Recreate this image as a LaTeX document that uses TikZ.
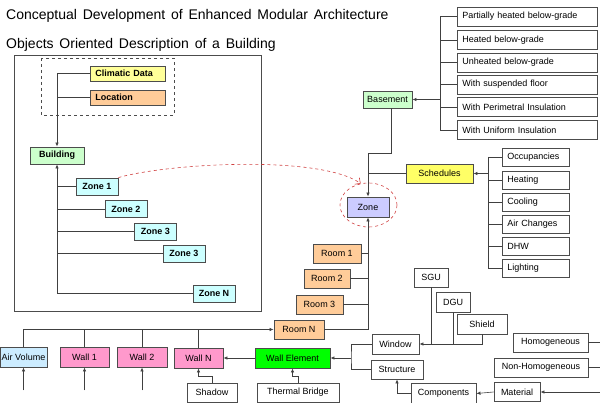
\documentclass[tikz,border=0pt]{standalone}
\usepackage{fontspec}
\setmainfont{Liberation Sans}
\usetikzlibrary{arrows.meta,shapes.geometric}

\definecolor{climatic}{HTML}{FFFF99}
\definecolor{location}{HTML}{FFCC99}
\definecolor{building}{HTML}{CCFFCC}
\definecolor{zonecyan}{HTML}{CCFFFF}
\definecolor{zonemain}{HTML}{CCCCFF}
\definecolor{schedules}{HTML}{FFFF66}
\definecolor{airvol}{HTML}{CCECFF}
\definecolor{wallpink}{HTML}{FF99CC}
\definecolor{wallelem}{HTML}{00FF00}
\definecolor{linkred}{HTML}{D04040}

\def\zones{{97/186.5/z1/Zone 1}, {126/209/z2/Zone 2}, {155.5/231.5/z3/Zone 3}, {184/253.5/z4/Zone 3}, {214/293.5/z5/Zone N}}
\def\basementTypes{{16.5/b1/Partially heated below-grade}, {40/b2/Heated below-grade}, {62.5/b3/Unheated below-grade}, {84.5/b4/With suspended floor}, {107/b5/With Perimetral Insulation}, {130/b6/With Uniform Insulation}}
\def\scheduleTypes{{157/s1/Occupancies}, {180/s2/Heating}, {202/s3/Cooling}, {224/s4/Air Changes}, {246/s5/DHW}, {268/s6/Lighting}}
\def\rooms{{337/253.5/48/r1/Room 1}, {327/278.5/46/r2/Room 2}, {319.5/304.5/47/r3/Room 3}}
\def\walls{{84.5/49/w1/Wall 1}, {142/50/w2/Wall 2}}

\tikzstyle{heading} = [font=\fontsize{14}{16}\selectfont, inner sep=0pt, anchor=west]
\tikzstyle{box} = [draw=black!70, line width=0.9pt, rectangle, fill=white, inner sep=1pt, font=\fontsize{9}{10}\selectfont]
\tikzstyle{bold} = [font=\fontsize{9}{10}\selectfont\bfseries]
\tikzstyle{list box} = [box, anchor=west, align=left, inner xsep=5pt, inner ysep=0pt]
\tikzstyle{link} = [draw, black!75, line width=0.6pt]
\tikzstyle{arrow link} = [link, -{Latex[length=4pt,width=3.5pt]}]
\tikzstyle{hint} = [draw=linkred, dashed, line width=0.6pt]

\begin{document}
\begin{tikzpicture}[x=1pt, y=-1pt]
  \useasboundingbox (0,0) rectangle (600,403);

  % Titles
  \node[heading] (title) at (6,16) {\spaceskip=5.8pt plus 1pt\relax Conceptual Development of Enhanced Modular Architecture};
  \node[heading] (subtitle) at (6,45) {\spaceskip=5.8pt plus 1pt\relax Objects Oriented Description of a Building};

  % The building panel, with climate and location
  \draw[black!70, line width=0.9pt] (14,55) rectangle (261,311);
  \draw[black!70, line width=0.8pt, dashed] (41,58) rectangle (174,115);
  \node[list box, bold, fill=climatic, text width=65pt, minimum height=15pt] (clim) at (90,73.5) {Climatic Data};
  \node[list box, bold, fill=location, text width=65pt, minimum height=15pt] (loc) at (90,97.5) {Location};
  \node[box, bold, fill=building, minimum width=54, minimum height=17] (bld) at (57,155.5) {Building};

  \foreach \x/\y/\name/\txt in \zones
    \node[box, bold, fill=zonecyan, minimum width=42, minimum height=17] (\name) at (\x,\y) {\txt};

  \draw[arrow link] (clim.west) -| (bld.north);
  \draw[link] (loc.west) -- (loc.west -| bld.north);
  \draw[arrow link] (z5.west) -| (bld.south);
  \foreach \name in {z1,z2,z3,z4}
    \draw[link] (\name.west) -- (\name.west -| bld.south);

  % The zone
  \node[box, fill=zonemain, minimum width=42, minimum height=20] (zone) at (368,207) {Zone};
  \node[draw=linkred, dashed, ellipse, line width=0.6pt, minimum width=57, minimum height=44] (ring) at (368.5,205) {};
  \draw[hint, -{Straight Barb[length=4pt]}] (z1.north east) .. controls (170,163) and (320,155) .. (ring.110);

  % Basement and its types
  \node[box, fill=building, minimum width=49, minimum height=17] (base) at (387.5,99.5) {Basement};
  \coordinate (hub) at (368,153);
  \draw[arrow link] ([xshift=4pt]base.south) |- (hub) -- (zone.north);
  \foreach \y/\name/\txt in \basementTypes
    \node[list box, text width=130pt, minimum height=19] (\name) at (457,\y) {\txt};
  \coordinate (basefork) at (440,99.5);
  \draw[link] (b1.west -| basefork) -- (b6.west -| basefork);
  \foreach \i in {1,...,6}
    \draw[link] (b\i.west) -- (b\i.west -| basefork);
  \draw[arrow link] (basefork) -- (base.east);

  % Schedules
  \node[box, fill=schedules, minimum width=67, minimum height=19] (sched) at (439.5,173.5) {Schedules};
  \draw[link] (sched.west) -- (sched.west -| zone.north);
  \foreach \y/\name/\txt in \scheduleTypes
    \node[list box, text width=57pt, minimum height=18] (\name) at (502,\y) {\txt};
  \coordinate (schedfork) at (488,173.5);
  \draw[link] (s1.west -| schedfork) -- (s6.west -| schedfork);
  \foreach \i in {1,...,6}
    \draw[link] (s\i.west) -- (s\i.west -| schedfork);
  \draw[arrow link] (schedfork) -- (sched.east);

  % Rooms
  \foreach \x/\y/\w/\name/\txt in \rooms
    \node[box, fill=location, minimum width=\w, minimum height=19] (\name) at (\x,\y) {\txt};
  \node[box, fill=location, minimum width=50, minimum height=19] (rN) at (299,329.5) {Room N};
  \draw[arrow link] (rN.east) -| (zone.south);
  \foreach \name in {r1,r2,r3}
    \draw[link] (\name.east) -- (\name.east -| zone.south);

  % Air volume and walls
  \node[box, fill=airvol, minimum width=47, minimum height=20] (air) at (23.5,357) {Air Volume};
  \foreach \x/\w/\name/\txt in \walls
    \node[box, fill=wallpink, minimum width=\w, minimum height=20] (\name) at (\x,357) {\txt};
  \node[box, fill=wallpink, minimum width=49, minimum height=20] (wN) at (198.5,358) {Wall N};
  \draw[arrow link] (air.north) |- (rN.west);
  \foreach \name in {w1,w2,wN}
    \draw[link] (\name.north) -- (\name.north |- rN.west);
  \foreach \name in {air,w1,w2} {
    \coordinate (\name-in) at ([yshift=-23pt]\name.south);
    \draw[arrow link] (\name-in) -- (\name.south);
  }

  \node[box, minimum width=50, minimum height=19] (shadow) at (212,392.5) {Shadow};
  \draw[arrow link] (shadow.north) |- ([yshift=-8pt]wN.south) -- (wN.south);
  \node[box, fill=wallelem, minimum width=75, minimum height=20] (wall) at (292.5,358) {Wall Element};
  \draw[arrow link] (wall.west) -- (wN.east);
  \node[box, minimum width=82, minimum height=19] (bridge) at (298,392.5) {Thermal Bridge};
  \draw[arrow link] (bridge.north) |- ([yshift=-8pt]wall.south) -- (wall.south);

  % Window and structure
  \node[box, minimum width=47, minimum height=20] (win) at (395.5,344) {Window};
  \node[box, minimum width=52, minimum height=19] (struct) at (397,369.5) {Structure};
  \coordinate (wallfork) at (351,358);
  \draw[link] (win.west) -| (wallfork) |- (struct.west);
  \draw[arrow link] (wallfork) -- (wall.east);

  \node[box, minimum width=34, minimum height=19] (sgu) at (431,277.5) {SGU};
  \node[box, minimum width=34, minimum height=20] (dgu) at (453,302) {DGU};
  \node[box, minimum width=50, minimum height=20] (shield) at (482,324) {Shield};
  \draw[arrow link] (shield.south) |- (win.east);
  \foreach \name in {sgu,dgu}
    \draw[link] (\name.south) -- (\name.south |- win.east);

  % Materials, cut at the right edge
  \coordinate (cut) at (600,0);
  \node[box, minimum width=75, minimum height=19] (hom) at (550.5,342.5) {Homogeneous};
  \node[box, minimum width=94, minimum height=19] (nonhom) at (541,367.5) {Non-Homogeneous};
  \node[box, minimum width=46, minimum height=19] (mat) at (517,392) {Material};
  \node[box, minimum width=65, minimum height=20] (comp) at (443.5,393.5) {Components};
  \draw[link] (hom.east) -- (hom.east -| cut);
  \draw[link] (nonhom.east) -- (nonhom.east -| cut);
  \draw[arrow link] (mat.east -| cut) -- (mat.east);
  \draw[arrow link] (mat.west) -- (comp.east);
  \draw[arrow link] (comp.west) -| (struct.south);
\end{tikzpicture}
\end{document}
